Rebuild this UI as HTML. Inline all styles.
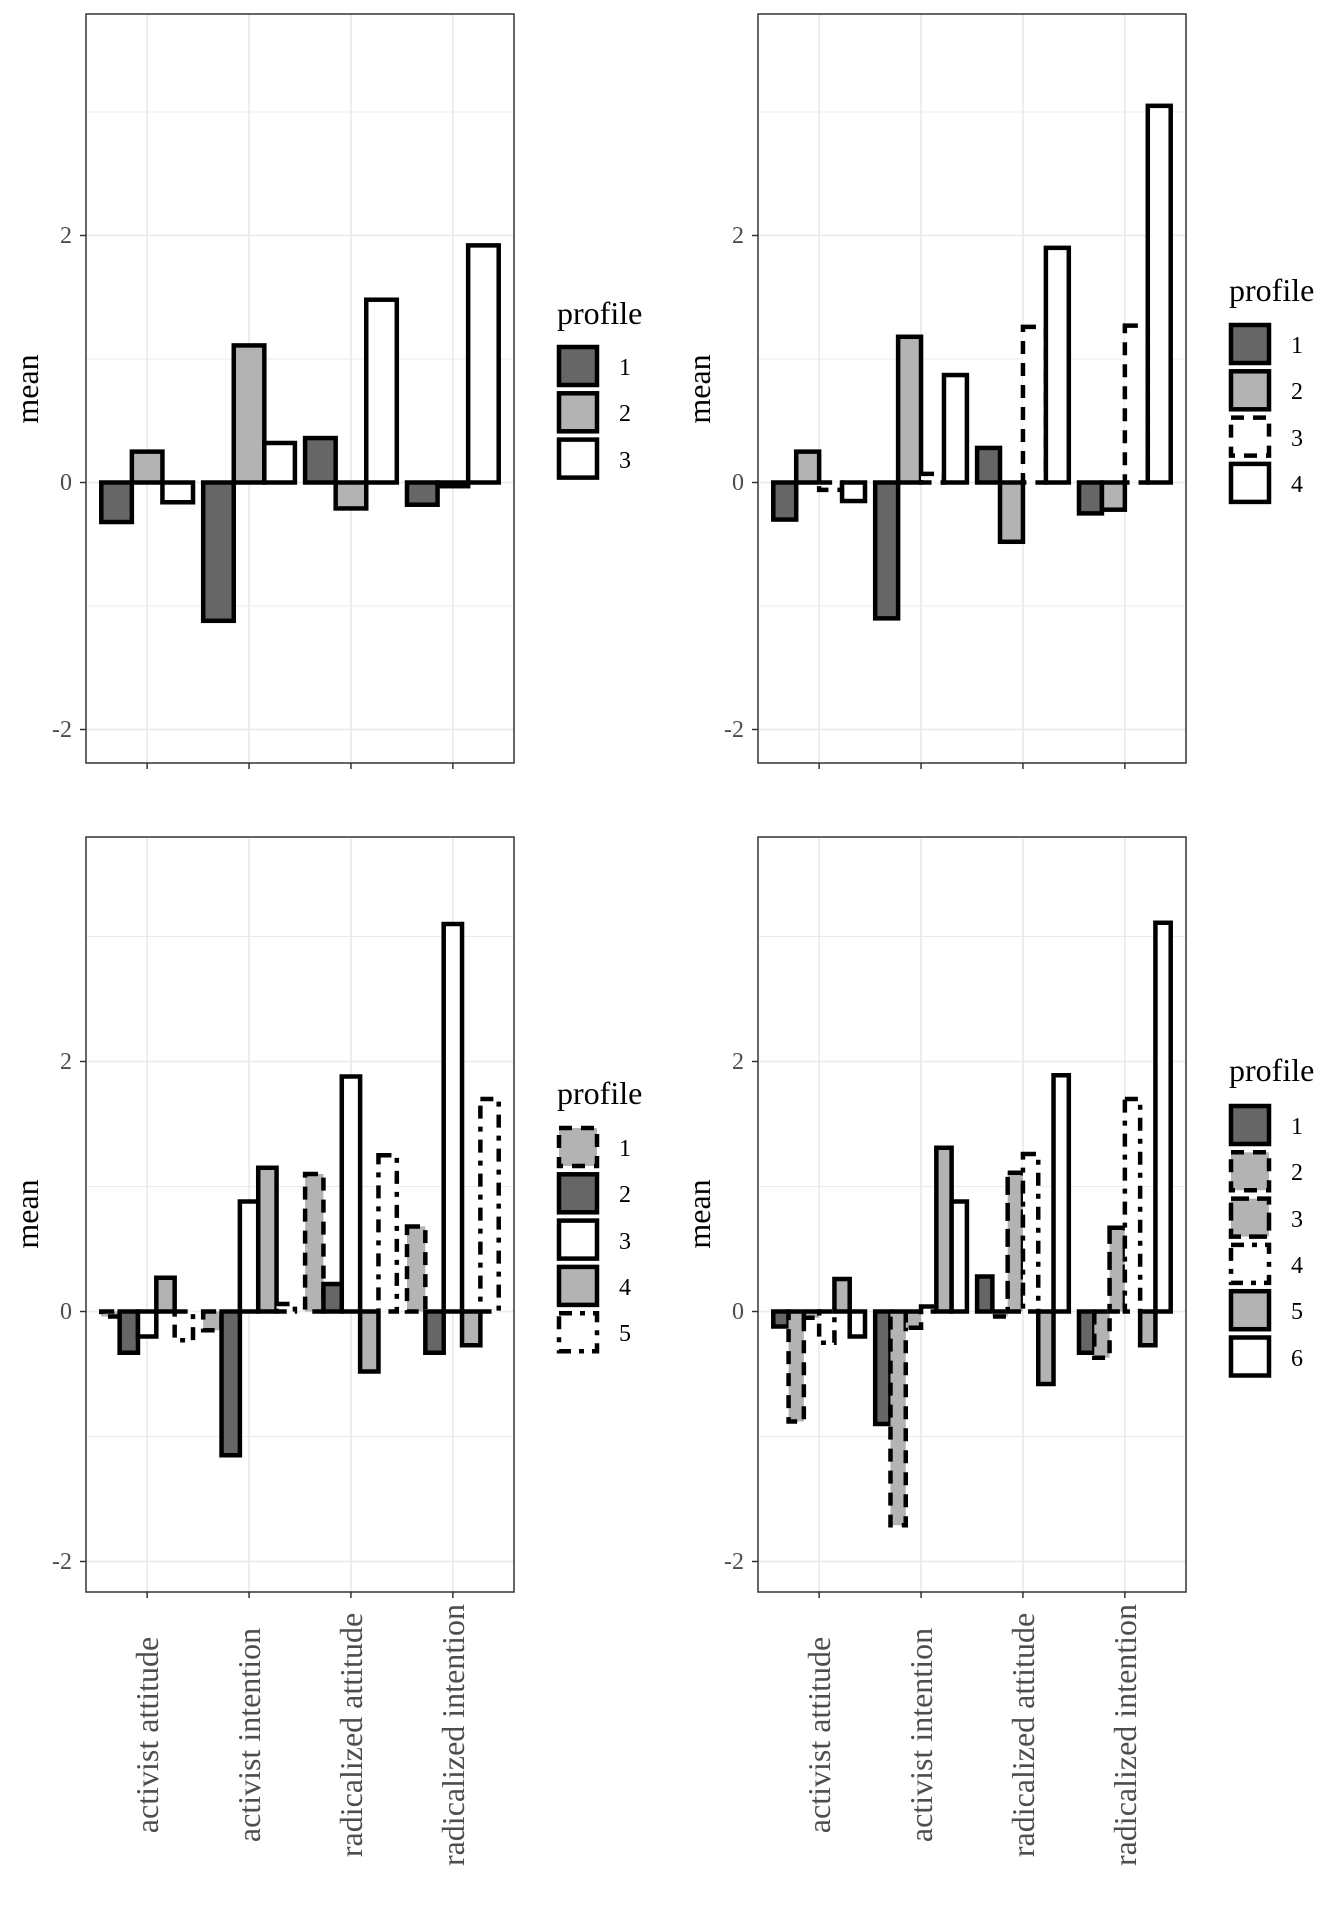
<!DOCTYPE html>
<html><head><meta charset="utf-8"><style>
html,body{margin:0;padding:0;background:#fff}
svg{display:block}
text{font-family:"Liberation Serif",serif}
</style></head><body>
<svg id="s" width="1344" height="1920" viewBox="0 0 1344 1920" xmlns="http://www.w3.org/2000/svg">
<rect width="1344" height="1920" fill="#fff"/>
<g id="bars"></g>
<g font-size="32" fill="#000">
<text transform="translate(38,389) rotate(-90)" text-anchor="middle">mean</text>
<text transform="translate(710,389) rotate(-90)" text-anchor="middle">mean</text>
<text transform="translate(38,1214) rotate(-90)" text-anchor="middle">mean</text>
<text transform="translate(710,1214) rotate(-90)" text-anchor="middle">mean</text>
<text x="557" y="324">profile</text>
<text x="1229" y="301">profile</text>
<text x="557" y="1104">profile</text>
<text x="1229" y="1081">profile</text>
</g>
<g font-size="24" fill="#4d4d4d" text-anchor="end">
<text x="72" y="243">2</text><text x="72" y="490">0</text><text x="72" y="737">-2</text>
<text x="744" y="243">2</text><text x="744" y="490">0</text><text x="744" y="737">-2</text>
<text x="72" y="1069">2</text><text x="72" y="1319">0</text><text x="72" y="1569">-2</text>
<text x="744" y="1069">2</text><text x="744" y="1319">0</text><text x="744" y="1569">-2</text>
</g>
<g font-size="32" fill="#4d4d4d" text-anchor="middle">
<text transform="translate(158,1735) rotate(-90)">activist attitude</text>
<text transform="translate(260,1735) rotate(-90)">activist intention</text>
<text transform="translate(362,1735) rotate(-90)">radicalized attitude</text>
<text transform="translate(464,1735) rotate(-90)">radicalized intention</text>
<text transform="translate(830,1735) rotate(-90)">activist attitude</text>
<text transform="translate(932,1735) rotate(-90)">activist intention</text>
<text transform="translate(1034,1735) rotate(-90)">radicalized attitude</text>
<text transform="translate(1136,1735) rotate(-90)">radicalized intention</text>
</g>
<g font-size="24" fill="#000" id="leglabels">
<text x="619" y="375">1</text><text x="619" y="421">2</text><text x="619" y="468">3</text>
<text x="1291" y="353">1</text><text x="1291" y="399">2</text><text x="1291" y="446">3</text><text x="1291" y="492">4</text>
<text x="619" y="1156">1</text><text x="619" y="1202">2</text><text x="619" y="1249">3</text><text x="619" y="1295">4</text><text x="619" y="1341">5</text>
<text x="1291" y="1134">1</text><text x="1291" y="1180">2</text><text x="1291" y="1227">3</text><text x="1291" y="1273">4</text><text x="1291" y="1319">5</text><text x="1291" y="1366">6</text>
</g>
</svg>
<script>
var NS="http://www.w3.org/2000/svg",g=document.getElementById("bars");
function el(t,a){var e=document.createElementNS(NS,t);for(var k in a)e.setAttribute(k,a[k]);g.appendChild(e);return e;}
var D="#666666",L="#b3b3b3",W="#ffffff";
var DA="13 9",DD="13 8 5 8",LD="18 8";
var panels=[
{x0:86,top:14,bot:763,y0:482.5,u:123.5,lx:557,ly:366,
 st:[[D,""],[L,""],[W,""]],
 v:[[-0.32,0.25,-0.16],[-1.12,1.11,0.32],[0.36,-0.21,1.48],[-0.18,-0.03,1.92]]},
{x0:758,top:14,bot:763,y0:482.5,u:123.5,lx:1229,ly:344,
 st:[[D,""],[L,""],[W,DA],[W,""]],
 v:[[-0.3,0.25,-0.06,-0.15],[-1.1,1.18,0.07,0.87],[0.28,-0.48,1.26,1.9],[-0.25,-0.22,1.27,3.05]]},
{x0:86,top:837,bot:1592,y0:1311.5,u:125,lx:557,ly:1147,
 st:[[L,DA],[D,""],[W,""],[L,""],[W,DD]],
 v:[[-0.04,-0.33,-0.2,0.27,-0.23],[-0.15,-1.15,0.88,1.15,0.06],[1.1,0.22,1.88,-0.48,1.25],[0.68,-0.33,3.1,-0.27,1.7]]},
{x0:758,top:837,bot:1592,y0:1311.5,u:125,lx:1229,ly:1125,
 st:[[D,""],[L,DA],[L,LD],[W,DD],[L,""],[W,""]],
 v:[[-0.12,-0.88,-0.05,-0.25,0.26,-0.2],[-0.9,-1.71,-0.13,0.04,1.31,0.88],[0.28,-0.04,1.11,1.26,-0.58,1.89],[-0.33,-0.37,0.67,1.7,-0.27,3.11]]}
];
panels.forEach(function(p){
 var W0=428,cw=W0/4.2;
 [-1,1,3].forEach(function(v){var y=p.y0-v*p.u;el("line",{x1:p.x0,x2:p.x0+W0,y1:y,y2:y,stroke:"#ebebeb","stroke-width":1});});
 [-2,0,2].forEach(function(v){var y=p.y0-v*p.u;el("line",{x1:p.x0,x2:p.x0+W0,y1:y,y2:y,stroke:"#ebebeb","stroke-width":1.8});
   el("line",{x1:p.x0-6,x2:p.x0,y1:y,y2:y,stroke:"#333","stroke-width":1.5});});
 for(var i=0;i<4;i++){var cx=p.x0+cw*(0.6+i);el("line",{x1:cx,x2:cx,y1:p.top,y2:p.bot,stroke:"#ebebeb","stroke-width":1.8});
   el("line",{x1:cx,x2:cx,y1:p.bot,y2:p.bot+6,stroke:"#333","stroke-width":1.5});}
 var n=p.st.length,bw=cw*0.9/n;
 p.v.forEach(function(row,i){var cx=p.x0+cw*(0.6+i),s=cx-cw*0.45;
  row.forEach(function(val,j){var x=s+j*bw,y1=p.y0,y2=p.y0-val*p.u;
   var a={x:x,y:Math.min(y1,y2),width:bw,height:Math.max(Math.abs(y2-y1),0.5),fill:p.st[j][0],stroke:"#000","stroke-width":4.5};
   if(p.st[j][1])a["stroke-dasharray"]=p.st[j][1];el("rect",a);});});
 el("rect",{x:p.x0,y:p.top,width:W0,height:p.bot-p.top,fill:"none",stroke:"#333","stroke-width":1.5});
 p.st.forEach(function(s,j){var a={x:p.lx+2,y:p.ly+j*46.3-19,width:38,height:38,fill:s[0],stroke:"#000","stroke-width":4.5};
   if(s[1])a["stroke-dasharray"]=s[1];el("rect",a);});
});
</script>
</body></html>
